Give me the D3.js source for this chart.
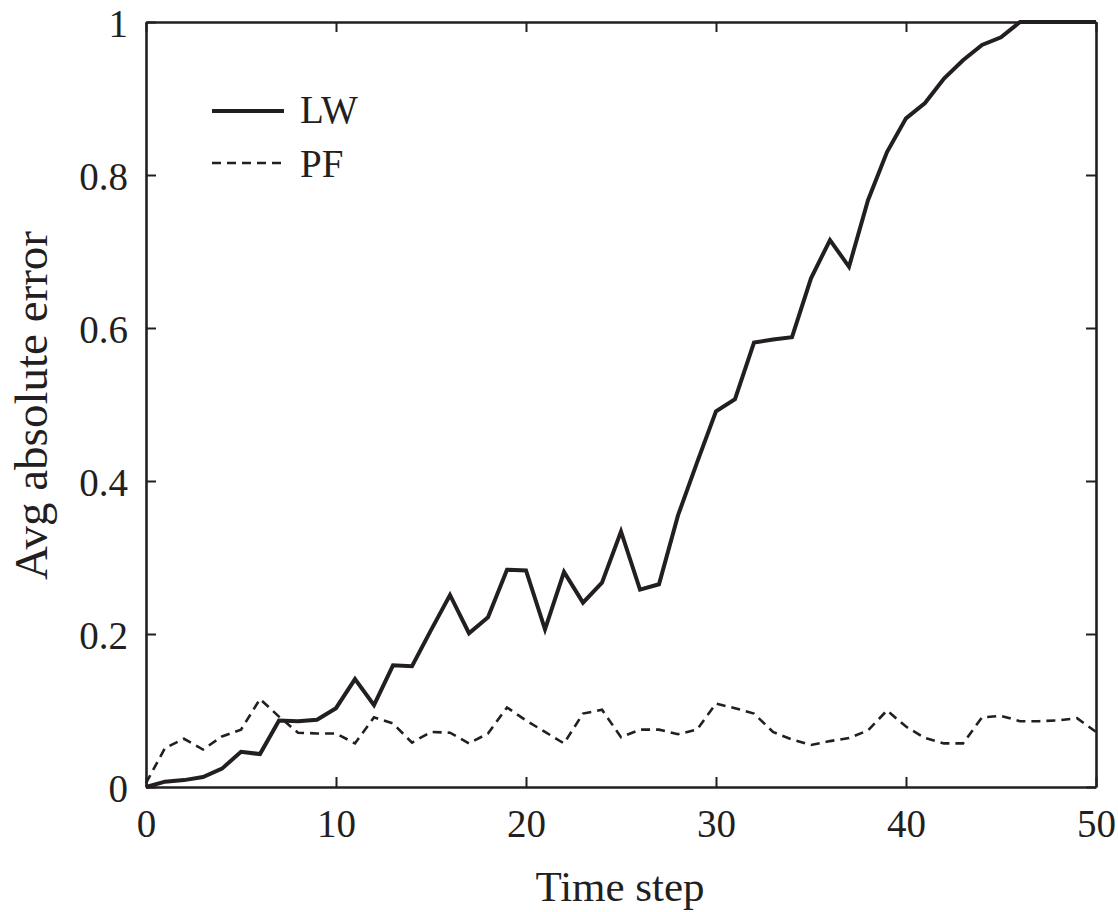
<!DOCTYPE html>
<html>
<head>
<meta charset="utf-8">
<script src="https://cdn.jsdelivr.net/npm/d3@7"></script>
<style>
  html, body { margin: 0; padding: 0; background: #fff; }
  svg text { font-family: "Liberation Serif", "DejaVu Serif", serif; fill: #231f20; }
</style>
</head>
<body>
<svg id="chart" width="1118" height="912"></svg>
<script>
const timeSteps = d3.range(0, 51);
const lwValues = [0.000, 0.007, 0.009, 0.013, 0.024, 0.046, 0.043, 0.087, 0.086, 0.088,
                  0.103, 0.141, 0.107, 0.159, 0.158, 0.205, 0.251, 0.201, 0.222, 0.284,
                  0.283, 0.206, 0.281, 0.241, 0.267, 0.334, 0.258, 0.265, 0.355, 0.424,
                  0.491, 0.507, 0.581, 0.585, 0.588, 0.665, 0.715, 0.680, 0.767, 0.830,
                  0.874, 0.894, 0.926, 0.950, 0.970, 0.980, 1.000, 1.000, 1.000, 1.000, 1.000];
const pfValues = [0.005, 0.051, 0.063, 0.049, 0.066, 0.075, 0.115, 0.092, 0.071, 0.070,
                  0.070, 0.057, 0.091, 0.083, 0.058, 0.072, 0.071, 0.057, 0.070, 0.104,
                  0.087, 0.072, 0.057, 0.096, 0.101, 0.065, 0.075, 0.075, 0.069, 0.075,
                  0.109, 0.103, 0.096, 0.072, 0.062, 0.055, 0.060, 0.064, 0.074, 0.100,
                  0.079, 0.064, 0.057, 0.057, 0.091, 0.093, 0.086, 0.086, 0.087, 0.090, 0.072];
const xTicks = [0, 10, 20, 30, 40, 50];
const yTicks = [0, 0.2, 0.4, 0.6, 0.8, 1];
const yTickLabels = ["0", "0.2", "0.4", "0.6", "0.8", "1"];
const seriesNames = ["LW", "PF"];

(function () {
const ink = "#231f20";
const svg = d3.select("#chart");
const pLeft = 146, pRight = 1096, pTop = 22, pBottom = 787;

const x = d3.scaleLinear().domain([0, 50]).range([pLeft, pRight]);
const y = d3.scaleLinear().domain([0, 1]).range([pBottom, pTop]);

const line = d3.line().x((d, i) => x(timeSteps[i])).y(d => y(d));

svg.append("path").datum(pfValues)
  .attr("d", line).attr("fill", "none").attr("stroke", ink)
  .attr("stroke-width", 2.6).attr("stroke-dasharray", "9,6");

svg.append("path").datum(lwValues)
  .attr("d", line).attr("fill", "none").attr("stroke", ink)
  .attr("stroke-width", 4).attr("stroke-linejoin", "miter");

const tickLen = 10;
const fmtY = d => yTickLabels[yTicks.indexOf(d)];

const axB = svg.append("g").attr("transform", `translate(0,${pBottom})`)
  .call(d3.axisBottom(x).tickValues(xTicks).tickSizeInner(-tickLen).tickSizeOuter(0));
const axT = svg.append("g").attr("transform", `translate(0,${pTop})`)
  .call(d3.axisTop(x).tickValues(xTicks).tickSizeInner(-tickLen).tickSizeOuter(0).tickFormat(""));
const axL = svg.append("g").attr("transform", `translate(${pLeft},0)`)
  .call(d3.axisLeft(y).tickValues(yTicks).tickSizeInner(-tickLen).tickSizeOuter(0).tickPadding(18).tickFormat(fmtY));
const axR = svg.append("g").attr("transform", `translate(${pRight},0)`)
  .call(d3.axisRight(y).tickValues(yTicks).tickSizeInner(-tickLen).tickSizeOuter(0).tickFormat(""));

[axB, axT, axL, axR].forEach(g => {
  g.selectAll(".domain").attr("stroke", ink).attr("stroke-width", 2.6);
  g.selectAll(".tick line").attr("stroke", ink).attr("stroke-width", 2);
});
[axB, axL].forEach(g => g.selectAll(".tick text").attr("font-size", 39).attr("fill", ink)
  .attr("font-family", "Liberation Serif, serif"));
axB.selectAll(".tick text").attr("y", 50).attr("dy", 0);
axL.selectAll(".tick text").attr("dy", "0.38em");

svg.append("text").attr("x", (pLeft + pRight) / 2 - 1).attr("y", 901)
  .attr("text-anchor", "middle").attr("font-size", 43).text("Time step");
svg.append("text").attr("transform", `translate(47,${(pTop + pBottom) / 2 + 1}) rotate(-90)`)
  .attr("text-anchor", "middle").attr("font-size", 47).text("Avg absolute error");

const legend = svg.append("g");
legend.append("line").attr("x1", 212).attr("x2", 284).attr("y1", 111).attr("y2", 111)
  .attr("stroke", ink).attr("stroke-width", 4);
legend.append("text").attr("x", 300).attr("y", 123).attr("font-size", 39).text(seriesNames[0]);
legend.append("line").attr("x1", 212).attr("x2", 284).attr("y1", 163).attr("y2", 163)
  .attr("stroke", ink).attr("stroke-width", 2.6).attr("stroke-dasharray", "9,6");
legend.append("text").attr("x", 300).attr("y", 177).attr("font-size", 39).text(seriesNames[1]);
})();
</script>
</body>
</html>
